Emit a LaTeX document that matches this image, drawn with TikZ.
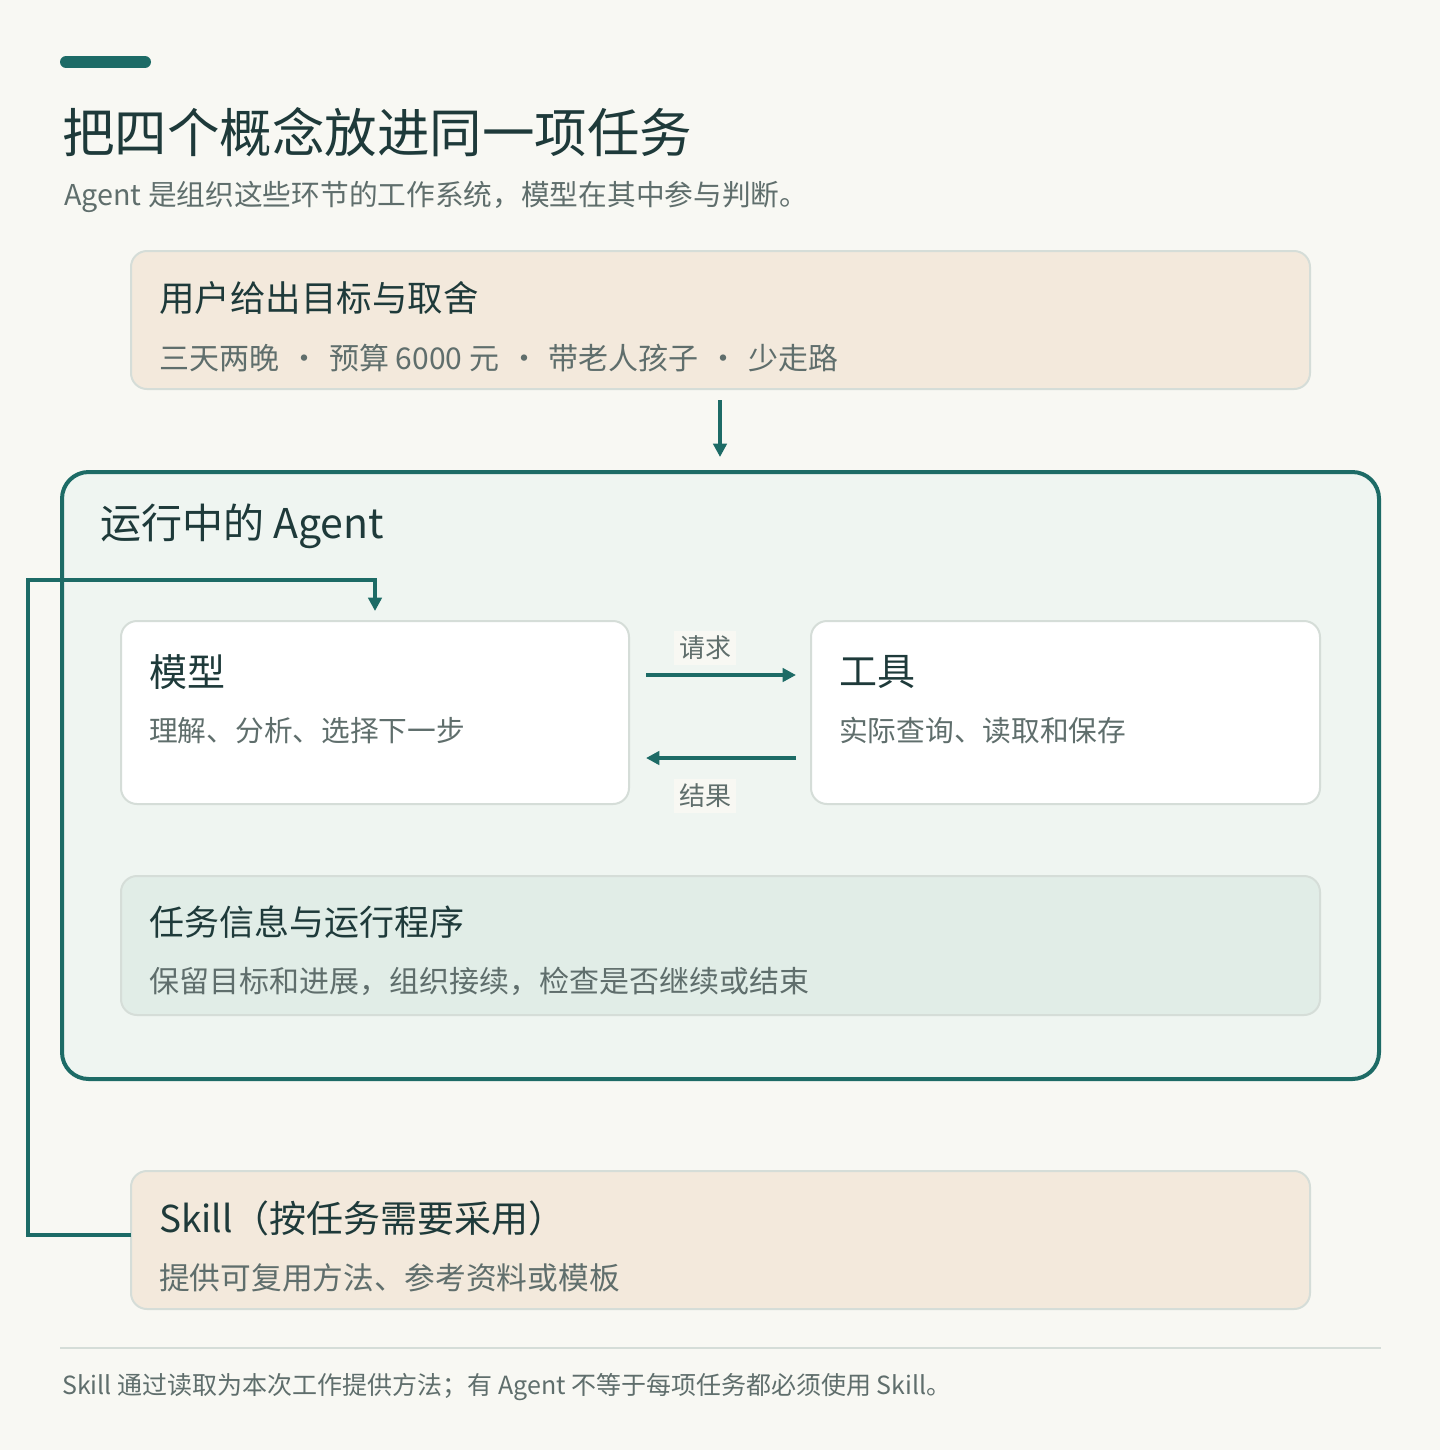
\documentclass[tikz,border=0pt]{standalone}
\usepackage{fontspec}
\setmainfont{Noto Sans CJK SC}
\usetikzlibrary{arrows.meta}
\definecolor{bg}{HTML}{F8F8F3}
\definecolor{teal}{HTML}{1D6B66}
\definecolor{beige}{HTML}{F3E9DC}
\definecolor{panel}{HTML}{EFF5F1}
\definecolor{taskc}{HTML}{E1EDE7}
\definecolor{bord}{HTML}{D5DDD8}
\definecolor{ink}{HTML}{1E3A3A}
\definecolor{sub}{HTML}{5F6E6C}
\newcommand{\px}[1]{\fontsize{\dimexpr #1pt*3/4\relax}{\dimexpr #1pt*9/10\relax}\selectfont}
\begin{document}
\begin{tikzpicture}[x=0.75pt,y=-0.75pt,
  box/.style={draw=bord,line width=1.5pt,rounded corners=12pt},
  ttl/.style={anchor=west,text=ink,inner sep=0pt},
  st/.style={anchor=west,text=sub,inner sep=0pt},
  arr/.style={draw=teal,line width=3pt,-{Triangle[length=10pt,width=10pt]}}]
\fill[bg] (0,0) rectangle (1440,1450);
\useasboundingbox (0,0) rectangle (1440,1450);
\draw[teal,line width=9pt,line cap=round] (66,62) -- (145,62);
\node[ttl,font=\px{52.5}] (title) at (62,132) {把四个概念放进同一项任务};
\node[st,font=\px{28.7}] (subt) at (64,197) {Agent 是组织这些环节的工作系统，模型在其中参与判断。};
% user box
\draw[box,fill=beige] (131,251) rectangle (1310,389);
\coordinate (ubot) at (720,400);
\node[ttl,font=\px{35.5}] (ut) at (159,298) {用户给出目标与取舍};
\node[st,font=\px{30}] (us) at (159,358) {三天两晚\hspace{0.33em}·\hspace{0.33em}预算 6000 元\hspace{0.33em}·\hspace{0.33em}带老人孩子\hspace{0.33em}·\hspace{0.33em}少走路};
% agent
\draw[teal,line width=3pt,fill=panel,rounded corners=20pt] (62,472) rectangle (1379,1079);
\coordinate (atop) at (720,457);
\draw[arr] (ubot) -- (atop);
\node[ttl,font=\px{41}] (at) at (100,526) {运行中的 Agent};
% model & tool
\draw[box,fill=white] (121,621) rectangle (629,804);
\node[ttl,font=\px{38}] (mt) at (149,672) {模型};
\node[st,font=\px{28.7}] (ms) at (149,731) {理解、分析、选择下一步};
\draw[box,fill=white] (811,621) rectangle (1320,804);
\node[ttl,font=\px{38}] (tt) at (839,672) {工具};
\node[st,font=\px{28.7}] (ts) at (839,731) {实际查询、读取和保存};
\coordinate (r1) at (646,675); \coordinate (r2) at (796,675);
\coordinate (s1) at (796,758); \coordinate (s2) at (646,758);
\draw[arr] (r1) -- (r2);
\draw[arr] (s1) -- (s2);
\node[fill=bg,text=sub,font=\px{26},inner sep=4pt] (lq) at (705,648) {请求};
\node[fill=bg,text=sub,font=\px{26},inner sep=4pt] (lr) at (705,796) {结果};
% task
\draw[box,fill=taskc] (121,876) rectangle (1320,1015);
\node[ttl,font=\px{35}] (kt) at (149,922) {任务信息与运行程序};
\node[st,font=\px{30}] (ks) at (149,981) {保留目标和进展，组织接续，检查是否继续或结束};
% skill
\draw[box,fill=beige] (131,1171) rectangle (1310,1309);
\node[ttl,font=\px{37}] (sk) at (159,1218) {Skill（按任务需要采用）};
\node[st,font=\px{30.7}] (ss) at (159,1278) {提供可复用方法、参考资料或模板};
\coordinate (sl) at (131,1235);
\coordinate (mtop) at (375,611);
\draw[arr] (sl) -- (28,1235) -- (28,580) -- (375,580) -- (mtop);
% footer
\draw[bord,line width=1.5pt] (60,1348) -- (1381,1348);
\node[st,font=\px{25}] (ft) at (62,1387) {Skill 通过读取为本次工作提供方法；有 Agent 不等于每项任务都必须使用 Skill。};
\end{tikzpicture}
\end{document}
